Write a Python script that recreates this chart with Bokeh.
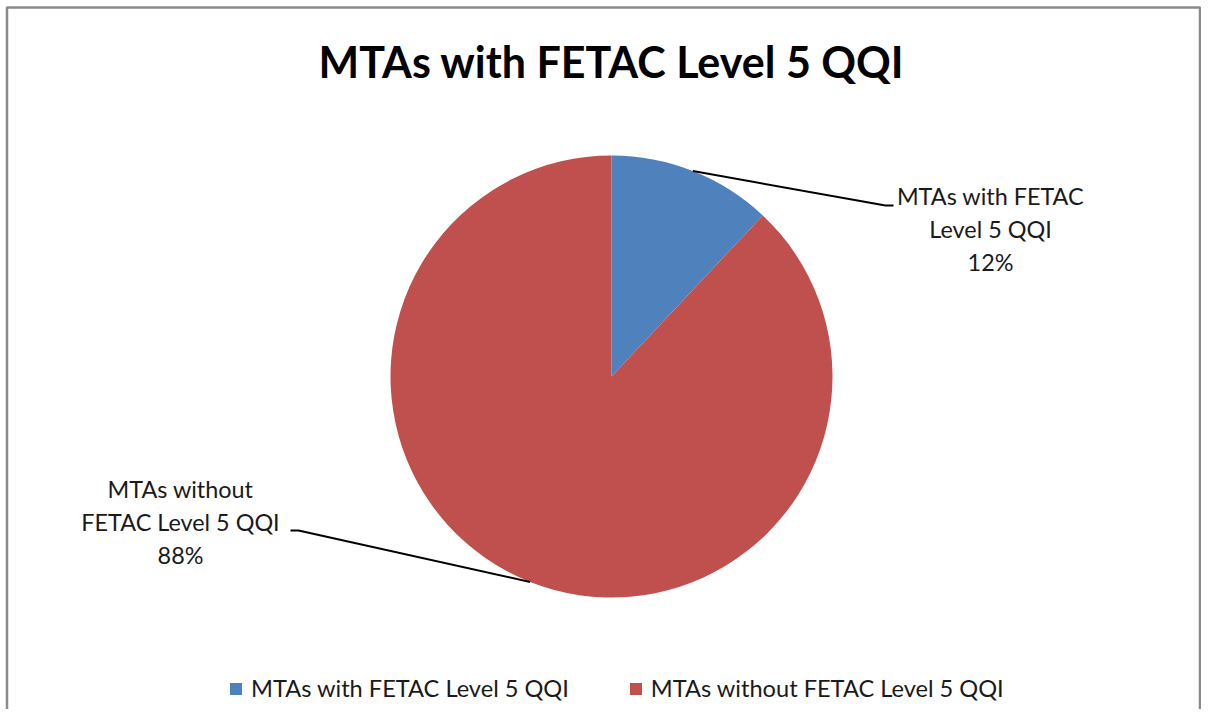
import math
from bokeh.plotting import figure
from bokeh.models import Range1d, ColumnDataSource, Legend, LegendItem
from bokeh.core.properties import value
from bokeh.embed import file_html
from bokeh.resources import INLINE

# ---- data ----
title_text = "MTAs with FETAC Level 5 QQI"
categories = ["MTAs with FETAC Level 5 QQI", "MTAs without FETAC Level 5 QQI"]
values = [12, 88]
wrapped_labels = ["MTAs with FETAC\nLevel 5 QQI", "MTAs without\nFETAC Level 5 QQI"]
colors = ["#4F81BD", "#C0504D"]

W, H = 1201, 709


def sy(s):
    return H - s


p = figure(width=W, height=H, output_backend="svg", toolbar_location=None,
           x_range=Range1d(0, W), y_range=Range1d(0, H),
           min_border=0)
p.axis.visible = False
p.grid.visible = False
p.outline_line_color = None
p.background_fill_color = "white"
p.border_fill_color = "white"

FONT = value("Lato")

# border (top, left, right)
p.line(x=[6.5, 6.5, 1199.5, 1199.5], y=[0, sy(7), sy(7), 0], line_color="#8a8a8a", line_width=2.5)

# title
p.text(x=[611], y=[sy(61)], text=[title_text], text_font=FONT, text_font_style="bold",
       text_font_size="43px", text_align="center", text_baseline="middle", text_color="black")

# pie
cx, cy, r = 611, sy(376), 221
total = sum(values)
starts, ends, mids = [], [], []
cum = 0.0
for v in values:
    a0 = math.pi / 2 - cum / total * 2 * math.pi
    cum += v
    a1 = math.pi / 2 - cum / total * 2 * math.pi
    starts.append(a0)
    ends.append(a1)
    mids.append((a0 + a1) / 2)

src = ColumnDataSource(dict(start=starts, end=ends, color=colors, cat=categories))
wr = p.wedge(x=cx, y=cy, radius=r, start_angle="start", end_angle="end", direction="clock",
             fill_color="color", line_color=None, source=src)

# leader lines and data labels
label_anchor = [(893, 205, 885), (290, 530, 298)]  # (end x, y, elbow x) in screen coords
label_pos = [(990, 195), (180, 488)]
for i, v in enumerate(values):
    px = cx + r * math.cos(mids[i])
    py = cy + r * math.sin(mids[i])
    ex, ey, elx = label_anchor[i]
    p.line(x=[px, elx, ex], y=[py, sy(ey), sy(ey)], line_color="black", line_width=2)
    lines = (wrapped_labels[i] + "\n" + f"{round(v / total * 100)}%").split("\n")
    lx, ly = label_pos[i]
    for k, ln in enumerate(lines):
        p.text(x=[lx], y=[sy(ly + k * 33)], text=[ln], text_font=FONT, text_font_size="23.4px",
               text_align="center", text_baseline="middle", text_color="#1a1a1a")

# legend
items = [LegendItem(label=categories[i], renderers=[wr], index=i) for i in range(len(categories))]
legend = Legend(items=items, orientation="horizontal", location=(228, 7),
                label_text_font="Lato", label_text_font_size="23.6px", label_text_color="#1a1a1a",
                glyph_width=15, glyph_height=15, label_standoff=8, spacing=59,
                padding=0, margin=0, border_line_color=None, background_fill_alpha=0)
p.add_layout(legend)

open("out.html", "w").write(file_html(p, INLINE))
